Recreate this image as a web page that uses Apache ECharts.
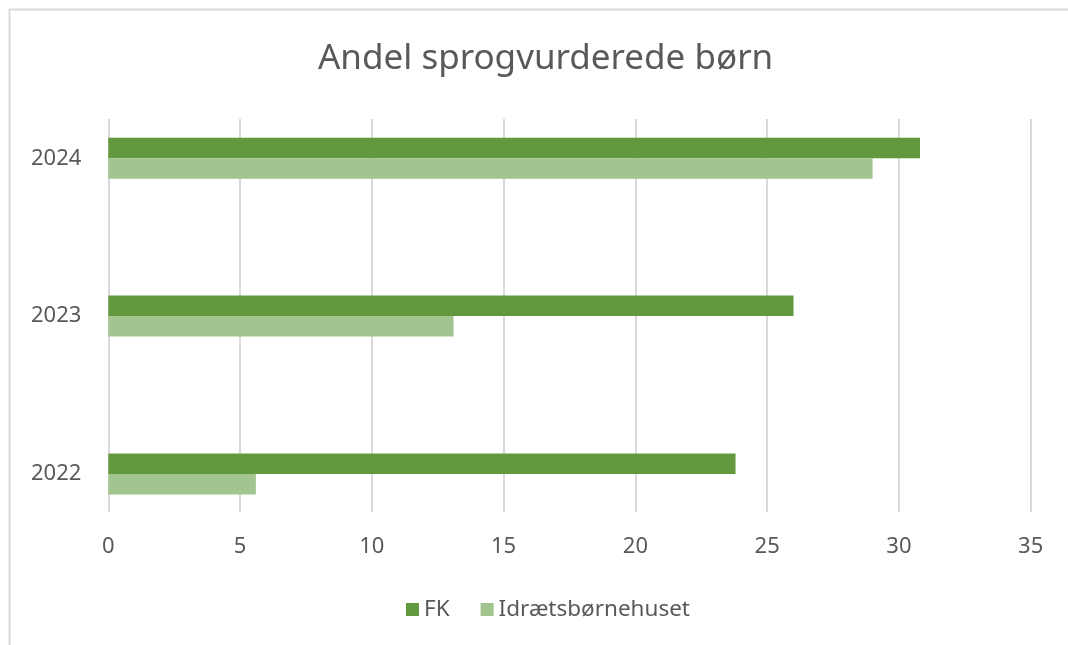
<!DOCTYPE html>
<html>
<head>
<meta charset="utf-8">
<script src="https://cdn.jsdelivr.net/npm/echarts@6/dist/echarts.min.js"></script>
<style>
  html, body { margin: 0; padding: 0; background: #fff; }
  #chart { width: 1068px; height: 645px; }
</style>
</head>
<body>
<div id="chart"></div>
<script>
const years = ['2022', '2023', '2024']
const fkValues = [23.8, 26.0, 30.8]
const idraetValues = [5.6, 13.1, 29.0]
const seriesNames = ['FK', 'Idrætsbørnehuset']
const axisMin = 0
const axisMax = 35
const axisStep = 5

const FONT = 'Noto Sans'
const TEXT = '#595959'
const GRIDLINE = '#d9d9d9'

const chart = echarts.init(document.getElementById('chart'))

chart.setOption({
  backgroundColor: '#fff',
  animation: false,
  title: {
    text: 'Andel sprogvurderede børn',
    left: 313,
    top: 37,
    textStyle: { color: TEXT, fontSize: 35, fontWeight: 'normal', fontFamily: FONT }
  },
  graphic: [{
    type: 'rect',
    shape: { x: 9.5, y: 9.5, width: 1200, height: 1000 },
    style: { fill: 'none', stroke: GRIDLINE, lineWidth: 2 },
    silent: true
  }],
  legend: {
    data: seriesNames,
    left: 401,
    top: 593,
    itemWidth: 13,
    itemHeight: 13,
    itemGap: 31,
    icon: 'rect',
    textStyle: { color: TEXT, fontSize: 22.5, fontFamily: FONT }
  },
  grid: [
    // gridlines + value labels
    { left: 108.3, right: 37.3, top: 119, bottom: 133 },
    // bars + year labels
    { left: 108.3, right: 37.3, top: 79.4, height: 473.4 }
  ],
  xAxis: [
    {
      gridIndex: 0,
      type: 'value',
      min: axisMin,
      max: axisMax,
      interval: axisStep,
      axisLine: { show: false },
      axisTick: { show: false },
      axisLabel: { color: TEXT, fontSize: 22, fontFamily: FONT, margin: 24, lineHeight: 22 },
      splitLine: { lineStyle: { color: GRIDLINE, width: 2 } }
    },
    {
      gridIndex: 1,
      type: 'value',
      min: axisMin,
      max: axisMax,
      show: false
    }
  ],
  yAxis: [
    {
      gridIndex: 0,
      type: 'category',
      data: years,
      show: false
    },
    {
      gridIndex: 1,
      type: 'category',
      data: years,
      axisLine: { show: false },
      axisTick: { show: false },
      splitLine: { show: false },
      axisLabel: { color: TEXT, fontSize: 22, fontFamily: FONT, margin: 27 }
    }
  ],
  series: [
    {
      name: 'FK',
      type: 'bar',
      xAxisIndex: 1,
      yAxisIndex: 1,
      data: fkValues,
      barWidth: 20.5,
      barGap: '0%',
      itemStyle: { color: '#62993e' }
    },
    {
      name: 'Idrætsbørnehuset',
      type: 'bar',
      xAxisIndex: 1,
      yAxisIndex: 1,
      data: idraetValues,
      barWidth: 20.5,
      barGap: '0%',
      itemStyle: { color: '#a2c58f' }
    }
  ]
})
</script>
</body>
</html>
